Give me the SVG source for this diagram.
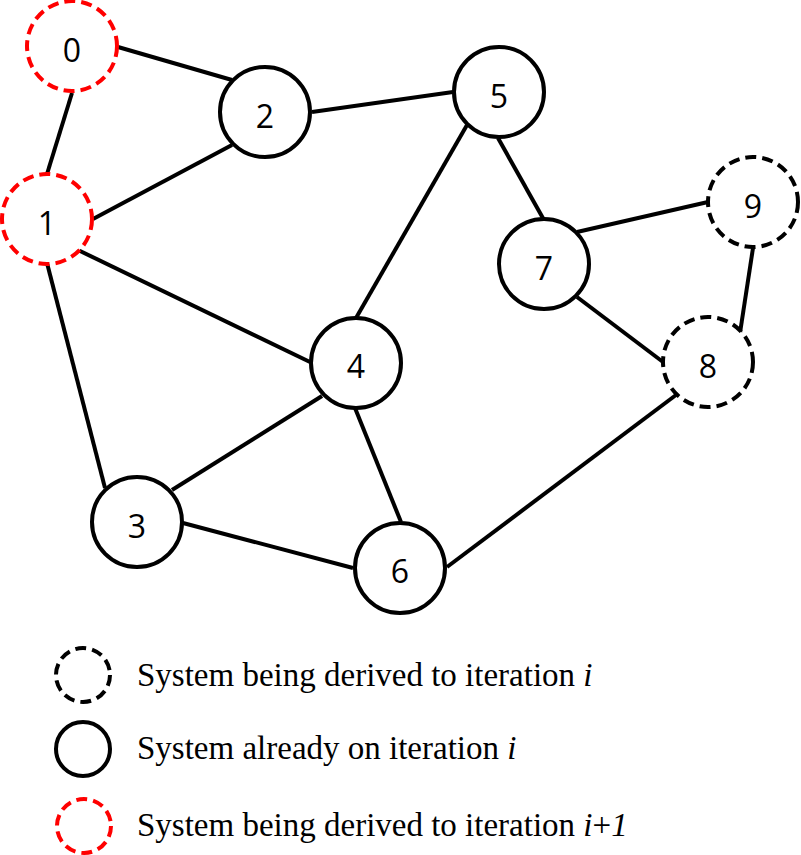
<svg xmlns="http://www.w3.org/2000/svg" width="801" height="855" viewBox="0 0 801 855">
<style>
.edge{stroke:#000;stroke-width:4;fill:none}
.solid{fill:#fff;stroke:#000;stroke-width:4}
.dash{fill:#fff;stroke:#000;stroke-width:4;stroke-dasharray:11 6}
.red{fill:#fff;stroke:#ff0000;stroke-width:4;stroke-dasharray:11 6}
.num{font-family:"Open Sans","Noto Sans",sans-serif;font-size:32px;fill:#000;text-anchor:middle}
.leg{font-family:"Liberation Serif","Times New Roman",serif;font-size:33px;fill:#000}
</style>
<rect width="801" height="855" fill="#fff"/>
<g id="connectors">
<line class="edge" x1="118" y1="47" x2="232" y2="80"/>
<line class="edge" x1="72" y1="93" x2="47" y2="174"/>
<line class="edge" x1="93" y1="219" x2="232" y2="145"/>
<line class="edge" x1="78" y1="250" x2="310" y2="362"/>
<line class="edge" x1="47" y1="263" x2="105" y2="488"/>
<line class="edge" x1="312" y1="112" x2="453" y2="92"/>
<line class="edge" x1="467" y1="125" x2="356" y2="318"/>
<line class="edge" x1="498" y1="138" x2="544" y2="220"/>
<line class="edge" x1="577" y1="232" x2="708" y2="202"/>
<line class="edge" x1="577" y1="297" x2="663" y2="362"/>
<line class="edge" x1="753" y1="248" x2="740" y2="333"/>
<line class="edge" x1="676" y1="395" x2="447" y2="567"/>
<line class="edge" x1="322" y1="396" x2="172" y2="490"/>
<line class="edge" x1="355" y1="408" x2="401" y2="522"/>
<line class="edge" x1="183" y1="523" x2="353" y2="568"/>
</g>
<g id="node0"><circle class="red" cx="72" cy="46" r="45"/><text class="num" x="72" y="62">0</text></g>
<g id="node1"><circle class="red" cx="47" cy="219" r="45"/><text class="num" x="47" y="235">1</text></g>
<g id="node2"><circle class="solid" cx="265" cy="112" r="45"/><text class="num" x="265" y="128">2</text></g>
<g id="node5"><circle class="solid" cx="499" cy="92" r="45"/><text class="num" x="499" y="108">5</text></g>
<g id="node9"><circle class="dash" cx="753" cy="202" r="45"/><text class="num" x="753" y="218">9</text></g>
<g id="node7"><circle class="solid" cx="544" cy="264" r="45"/><text class="num" x="544" y="280">7</text></g>
<g id="node8"><circle class="dash" cx="708" cy="362" r="45"/><text class="num" x="708" y="378">8</text></g>
<g id="node4"><circle class="solid" cx="356" cy="363" r="45"/><text class="num" x="356" y="378">4</text></g>
<g id="node3"><circle class="solid" cx="137" cy="522" r="45"/><text class="num" x="137" y="538">3</text></g>
<g id="node6"><circle class="solid" cx="400" cy="568" r="45"/><text class="num" x="400" y="583">6</text></g>
<g id="legend">
<circle class="dash" cx="83" cy="675" r="27" stroke-dasharray="9 5"/>
<text class="leg" x="137" y="686">System being derived to iteration <tspan font-style="italic">i</tspan></text>
<circle class="solid" cx="83" cy="749" r="27"/>
<text class="leg" x="137" y="759">System already on iteration <tspan font-style="italic">i</tspan></text>
<circle class="red" cx="84" cy="826" r="27" stroke-dasharray="9 5"/>
<text class="leg" x="137" y="836">System being derived to iteration <tspan font-style="italic">i</tspan>+<tspan font-style="italic">1</tspan></text>
</g>
</svg>
